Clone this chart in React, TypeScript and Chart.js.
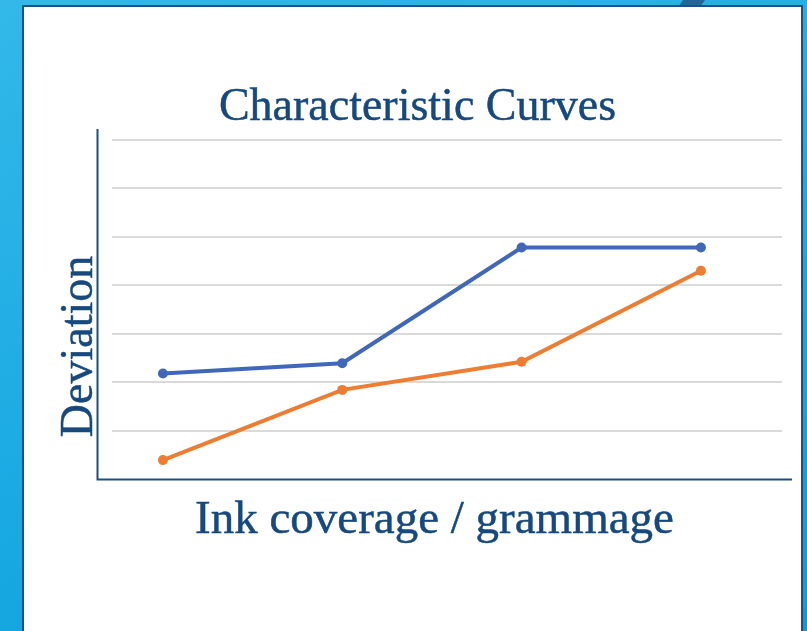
import React, { useEffect, useRef } from "react";
import { Chart, registerables } from "chart.js";

Chart.register(...registerables);

// ---- data ----
const categories = [1, 2, 3, 4];
const seriesBlue = [2.18, 2.39, 4.78, 4.78];
const seriesOrange = [0.39, 1.84, 2.42, 4.3];
const yTickValues = [0, 1, 2, 3, 4, 5, 6, 7];

const titleText = "Characteristic Curves";
const xTitleText = "Ink coverage / grammage";
const yTitleText = "Deviation";

const TEXT_COLOR = "#17497e";
const AXIS_COLOR = "#1d4f82";
const FONT = "'Liberation Serif', 'Times New Roman', serif";

const W = 807;
const H = 631;

function heavyText(ctx: any, text: string, x: number, y: number) {
  ctx.fillText(text, x, y);
  ctx.lineWidth = 0.5;
  ctx.strokeStyle = TEXT_COLOR;
  ctx.strokeText(text, x, y);
}

const decorPlugin = {
  id: "decor",
  afterDraw(chart: any) {
    const { ctx, chartArea, scales } = chart;
    const y0 = scales.y.getPixelForValue(0);
    const axisX = chartArea.left - 14.5;
    ctx.save();
    ctx.strokeStyle = AXIS_COLOR;
    ctx.lineWidth = 2;
    ctx.beginPath();
    ctx.moveTo(axisX, chartArea.top - 11);
    ctx.lineTo(axisX, y0 + 1);
    ctx.moveTo(axisX - 1, y0 + 0.5);
    ctx.lineTo(chartArea.right + 10, y0 + 0.5);
    ctx.stroke();

    ctx.fillStyle = TEXT_COLOR;
    ctx.textAlign = "center";
    ctx.textBaseline = "alphabetic";
    ctx.font = `46px ${FONT}`;
    heavyText(ctx, titleText, 417.5, chartArea.top - 20);
    ctx.font = `47px ${FONT}`;
    heavyText(ctx, xTitleText, 434.5, y0 + 54);

    ctx.font = `46px ${FONT}`;
    ctx.translate(axisX - 5.5, (chartArea.top + y0) / 2 + 37);
    ctx.rotate(-Math.PI / 2);
    heavyText(ctx, yTitleText, 0, 0);
    ctx.restore();
  },
};

export default function App() {
  const ref = useRef<HTMLCanvasElement>(null);

  useEffect(() => {
    document.body.style.margin = "0";
    const canvas = ref.current!;
    const chart = new Chart(canvas, {
      type: "line",
      data: {
        datasets: [
          {
            label: "Series 1",
            data: categories.map((c, i) => ({ x: c, y: seriesBlue[i] })),
            borderColor: "#4168b8",
            backgroundColor: "#4168b8",
            borderWidth: 4,
            pointRadius: 5,
            pointBorderWidth: 0,
            tension: 0,
          },
          {
            label: "Series 2",
            data: categories.map((c, i) => ({ x: c, y: seriesOrange[i] })),
            borderColor: "#ec7d33",
            backgroundColor: "#ec7d33",
            borderWidth: 4,
            pointRadius: 5,
            pointBorderWidth: 0,
            tension: 0,
          },
        ],
      },
      options: {
        responsive: false,
        animation: false,
        devicePixelRatio: 1,
        layout: { padding: { left: 112, right: 25, top: 140, bottom: 152 } },
        plugins: {
          legend: { display: false },
          title: { display: false },
          tooltip: { enabled: false },
        },
        scales: {
          x: {
            type: "linear",
            display: false,
            min: 0.716,
            max: 4.452,
          },
          y: {
            type: "linear",
            display: true,
            min: yTickValues[0],
            max: yTickValues[yTickValues.length - 1],
            afterBuildTicks: (scale: any) => {
              scale.ticks = yTickValues.map((v) => ({ value: v }));
            },
            ticks: { display: false },
            grid: {
              color: (c: any) => (c.tick && c.tick.value === 0 ? "rgba(0,0,0,0)" : "#dadada"),
              lineWidth: 2,
              drawTicks: false,
            },
            border: { display: false },
          },
        },
      },
      plugins: [decorPlugin],
    });
    return () => chart.destroy();
  }, []);

  return (
    <div
      style={{
        position: "relative",
        width: W,
        height: H,
        overflow: "hidden",
        background: "linear-gradient(160deg, #33b8e9 0%, #1cabe3 50%, #0b9ed9 100%)",
      }}
    >
      <div
        style={{
          position: "absolute",
          left: 683,
          top: -10,
          width: 22,
          height: 20,
          transform: "skewX(-35deg)",
          background: "#1d5a90",
          opacity: 0.85,
        }}
      />
      <div
        style={{
          position: "absolute",
          left: 22,
          top: 5,
          width: 781,
          height: 700,
          boxSizing: "border-box",
          background: "#ffffff",
          border: `2px solid ${AXIS_COLOR}`,
        }}
      />
      <canvas
        ref={ref}
        width={W}
        height={H}
        style={{ position: "absolute", left: 0, top: 0, width: W, height: H }}
      />
    </div>
  );
}
